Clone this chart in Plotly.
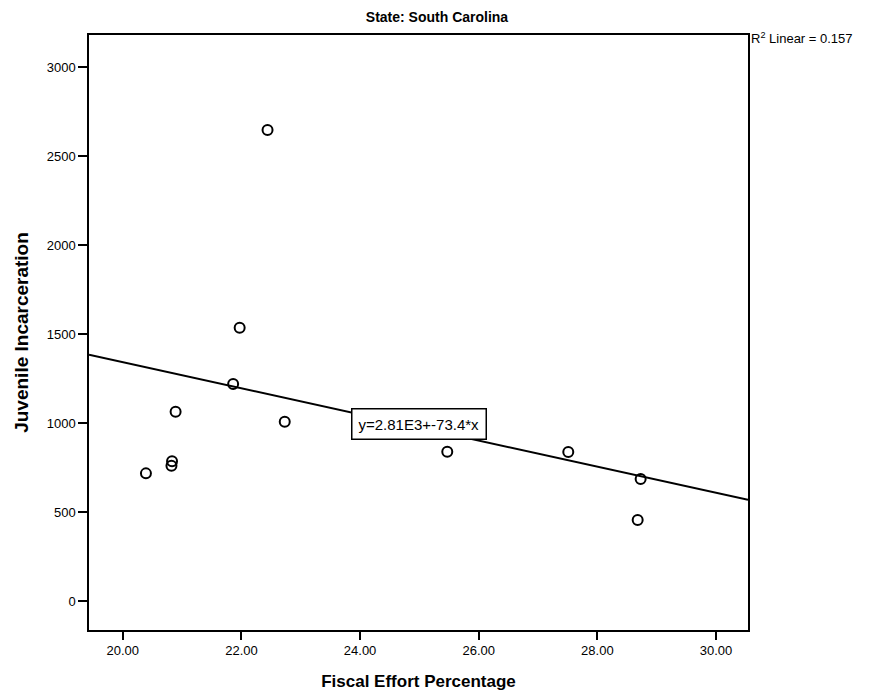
import plotly.graph_objects as go

# Data (Fiscal effort % vs juvenile incarceration)
fiscal_effort = [20.39, 20.82, 20.83, 20.89, 21.86, 21.97, 22.44, 22.73, 25.47, 27.51, 28.68, 28.73]
incarceration = [717, 760, 785, 1063, 1219, 1535, 2646, 1007, 839, 837, 455, 685]

# Fitted line reported on the chart
intercept = 2810
slope = -73.4
r_squared = 0.157
fit_x = [19.43, 30.54]
fit_y = [intercept + slope * v for v in fit_x]

x_ticks = [20, 22, 24, 26, 28, 30]
y_ticks = [0, 500, 1000, 1500, 2000, 2500, 3000]

narrow = "Liberation Sans Narrow, Arial Narrow, Liberation Sans, Arial"
bold = "Liberation Sans, Arial"

fig = go.Figure()

# regression line
fig.add_trace(go.Scatter(
    x=fit_x, y=fit_y, mode="lines",
    line=dict(color="black", width=2),
    showlegend=False, hoverinfo="skip"
))

# points
fig.add_trace(go.Scatter(
    x=fiscal_effort, y=incarceration, mode="markers",
    marker=dict(symbol="circle-open", size=10, color="black", line=dict(width=2)),
    showlegend=False
))

# equation label
fig.add_annotation(
    x=25.0, y=995, xref="x", yref="y",
    text="y=2.81E3+-73.4*x", showarrow=False,
    font=dict(family=narrow, size=15, color="black"),
    bgcolor="white", bordercolor="black", borderwidth=1.5, borderpad=6
)

# R squared label
fig.add_annotation(
    x=1.0, y=1.0, xref="paper", yref="paper",
    xanchor="left", yanchor="top", xshift=1, yshift=7,
    text=f"R<sup>2</sup> Linear = {r_squared}", showarrow=False,
    font=dict(family=narrow, size=13, color="black")
)

fig.update_xaxes(
    range=[19.43, 30.54], tickvals=x_ticks, tickformat=".2f",
    ticks="outside", ticklen=8, tickwidth=2, tickcolor="black",
    showline=True, linecolor="black", linewidth=1.5, mirror=True,
    showgrid=False, zeroline=False,
    tickfont=dict(family=narrow, size=13, color="black"),
    title=dict(text="<b>Fiscal Effort Percentage</b>", standoff=18,
               font=dict(family=bold, size=17, color="black"))
)
fig.update_yaxes(
    range=[-163, 3180], tickvals=y_ticks,
    ticks="outside", ticklen=9, tickwidth=2, tickcolor="black",
    showline=True, linecolor="black", linewidth=1.5, mirror=True,
    showgrid=False, zeroline=False,
    tickfont=dict(family=narrow, size=13, color="black"),
    title=dict(text="<b>Juvenile Incarceration</b>", standoff=13,
               font=dict(family=bold, size=19, color="black"))
)

fig.update_layout(
    width=871, height=698,
    margin=dict(l=79, r=131, t=27, b=76),
    paper_bgcolor="white", plot_bgcolor="white",
    title=dict(text="<b>State: South Carolina</b>", x=429 / 871, xanchor="center",
               y=1 - 9 / 698, yanchor="middle",
               font=dict(family=narrow, size=14, color="black"))
)

fig.write_html("out.html")
